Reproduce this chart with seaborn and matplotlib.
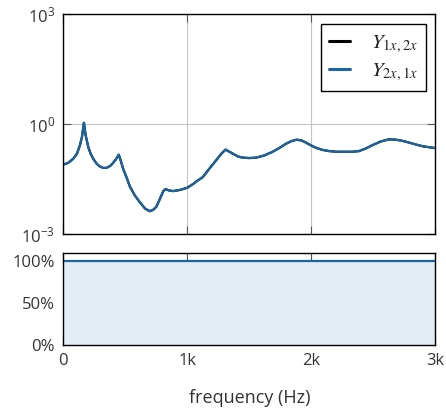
import numpy as np
import pandas as pd
import seaborn as sns
import matplotlib.pyplot as plt
import matplotlib.ticker as mticker

# frequency response magnitude
freq = [0, 40, 80, 110, 134, 150, 166, 180, 201, 220, 241, 270, 295, 320,
        348, 380, 402, 425, 447, 462, 482, 510, 536, 575, 616, 660, 697, 725,
        750, 770, 791, 810, 826, 850, 884, 940, 1000, 1050, 1085, 1125, 1180,
        1233, 1275, 1308, 1335, 1367, 1410, 1447, 1500, 1555, 1620, 1688,
        1745, 1796, 1840, 1881, 1920, 1957, 2000, 2037, 2090, 2144, 2210,
        2278, 2330, 2385, 2440, 2492, 2560, 2626, 2680, 2733, 2790, 2841,
        2900, 2960, 3000]
mag = [0.0794, 0.0891, 0.115, 0.158, 0.269, 0.447, 1.10, 0.501, 0.240, 0.158,
       0.115, 0.0832, 0.0708, 0.0646, 0.0646, 0.0741, 0.0891, 0.112, 0.148,
       0.105, 0.0617, 0.0355, 0.0204, 0.0117, 0.00759, 0.00501, 0.00427,
       0.00468, 0.00562, 0.00794, 0.0115, 0.0158, 0.0170, 0.0158, 0.0151,
       0.0162, 0.0186, 0.0240, 0.0295, 0.0363, 0.0631, 0.105, 0.158, 0.204,
       0.182, 0.158, 0.132, 0.123, 0.120, 0.123, 0.141, 0.178, 0.229, 0.295,
       0.347, 0.380, 0.363, 0.316, 0.263, 0.229, 0.200, 0.186, 0.178, 0.178,
       0.178, 0.186, 0.219, 0.269, 0.339, 0.389, 0.380, 0.355, 0.316, 0.282,
       0.251, 0.234, 0.224]
# reciprocity: both transfer functions are identical
coh_freq = [0, 3000]
coh = [1.0, 1.0]
labels = ['$Y_{1x,2x}$', '$Y_{2x,1x}$']

BLUE = '#1a65a0'
FILL = '#e4ecf4'

sns.set_style('ticks')
plt.rcParams['font.family'] = ['Open Sans', 'DejaVu Sans']
plt.rcParams['mathtext.fontset'] = 'custom'
plt.rcParams['mathtext.rm'] = 'Open Sans'
plt.rcParams['xtick.direction'] = 'in'
plt.rcParams['ytick.direction'] = 'in'
plt.rcParams['xtick.color'] = '#555555'
plt.rcParams['ytick.color'] = '#555555'
plt.rcParams['xtick.labelcolor'] = '#333333'
plt.rcParams['ytick.labelcolor'] = '#333333'

fig = plt.figure(figsize=(4.46, 4.17), dpi=100)
ax1 = fig.add_axes([0.142, 0.438, 0.834, 0.528])
ax2 = fig.add_axes([0.142, 0.173, 0.834, 0.220])

df = pd.DataFrame({'freq': freq, 'mag': mag})
sns.lineplot(data=df, x='freq', y='mag', ax=ax1, color='black', lw=1.6,
             label=labels[0])
sns.lineplot(data=df, x='freq', y='mag', ax=ax1, color=BLUE, lw=1.6,
             label=labels[1])
ax1.set_yscale('log')
ax1.set_ylim(1e-3, 1e3)
ax1.set_xlim(0, 3000)
ax1.set_yticks([1e-3, 1, 1e3])
ax1.yaxis.set_minor_locator(mticker.NullLocator())
ax1.set_xticks([0, 1000, 2000, 3000])
ax1.set_xticklabels([])
ax1.set_xlabel('')
ax1.set_ylabel('')

cdf = pd.DataFrame({'freq': coh_freq, 'coh': coh})
ax2.fill_between(coh_freq, 0, coh, color=FILL, lw=0)
sns.lineplot(data=cdf, x='freq', y='coh', ax=ax2, color=BLUE, lw=1.6)
ax2.set_xlim(0, 3000)
ax2.set_ylim(0, 1.1)
ax2.set_yticks([0, 0.5, 1.0])
ax2.set_yticklabels(['0%', '50%', '100%'])
ax2.set_xticks([0, 1000, 2000, 3000])
ax2.set_xticklabels(['0', '1k', '2k', '3k'])
ax2.set_xlabel('frequency (Hz)', fontsize=13, color='#333333', labelpad=14)
ax2.set_ylabel('')

for ax in [ax1, ax2]:
    ax.grid(True, color='#c4c4c4', lw=0.8)
    ax.tick_params(which='both', top=True, right=True, length=6, width=0.8,
                   labelsize=12, pad=6)
    for s in ax.spines.values():
        s.set_linewidth(1.0)
        s.set_color('black')
    ax.set_axisbelow(True)

leg = ax1.legend(loc='upper right', frameon=True, fancybox=False,
                 edgecolor='black', framealpha=1, fontsize=15,
                 handlelength=1.0, handletextpad=1.0, borderpad=0.4,
                 labelspacing=0.25, borderaxespad=0.45)
leg.get_frame().set_linewidth(1.0)
for h in leg.get_lines():
    h.set_linewidth(2.2)
for t in leg.get_texts():
    t.set_math_fontfamily('stix')

fig.savefig('out.png', dpi=100)
